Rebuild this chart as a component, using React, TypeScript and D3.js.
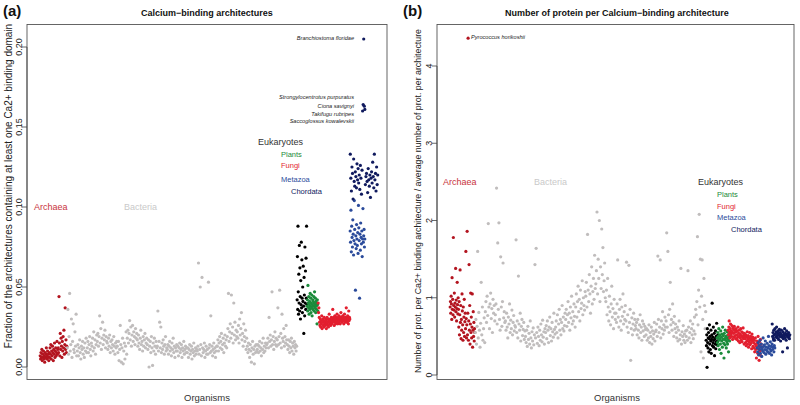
import React from "react";
import * as d3 from "d3";

// ---------- Panel (a): fraction of architectures with >=1 Ca2+ binding domain ----------
const archaeaA = [
  .007,.005,.009,.006,.011,.004,.008,.006,.010,.005,.007,.003,.009,.006,.008,.012,.005,.007,.010,.006,.008,.004,
  .009,.006,.012,.008,.014,.005,.010,.007,.013,.009,.004,.011,.008,.015,.006,.010,.012,.007,.009,.016,.008,.011,
  .012,.009,.044,.015,.007,.021,.011,.018,.013,.006,.016,.010,.019,.012,.023,.008,.014,.037,.011,.017,.009,.013,
];
const bacteriaA = [
  .012,.036,.008,.019,.046,.010,.014,.030,.006,.016,.027,.011,.009,.022,.013,.033,.007,
  .010,.014,.007,.012,.017,.009,.005,.013,.011,.016,.008,.012,.006,.015,.010,.018,.009,
  .012,.016,.009,.014,.019,.011,.007,.015,.013,.018,.010,.022,.012,.017,.008,.014,.020,
  .016,.021,.013,.019,.032,.015,.024,.011,.018,.028,.014,.020,.017,.023,.012,.019,.016,
  .015,.011,.018,.013,.020,.009,.016,.012,.017,.014,.010,.019,.013,.008,.015,.012,.016,
  .013,.009,.016,.004,.011,.026,.014,.003,.012,.018,.002,.010,.015,.005,.013,.022,.008,
  .018,.023,.015,.021,.029,.017,.025,.013,.020,.026,.016,.022,.019,.014,.024,.018,.021,
  .017,.013,.020,.015,.011,.018,.023,.014,.016,.010,.019,.013,.017,.021,.012,.015,.018,
  .014,.011,.017,.000,.013,.016,.009,.019,.012,.001,.015,.010,.018,.013,.008,.016,.012,
  .013,.035,.010,.016,.028,.012,.025,.009,.015,.011,.017,.013,.008,.014,.019,.010,.012,
  .011,.014,.008,.013,.016,.010,.012,.007,.015,.011,.018,.009,.013,.006,.012,.010,.014,
  .010,.013,.007,.012,.015,.009,.011,.014,.006,.012,.010,.016,.008,.011,.013,.009,.012,
  .009,.012,.006,.011,.014,.008,.010,.013,.005,.011,.009,.015,.007,.010,.012,.008,.011,
  .010,.013,.065,.008,.011,.050,.014,.007,.056,.012,.009,.011,.015,.006,.010,.013,.008,
  .011,.008,.053,.012,.014,.009,.032,.010,.013,.007,.011,.015,.009,.012,.006,.010,.013,
  .013,.017,.010,.015,.019,.012,.016,.021,.011,.014,.018,.009,.015,.020,.013,.017,.012,
  .019,.024,.046,.016,.022,.027,.018,.045,.021,.025,.015,.040,.020,.028,.017,.023,.019,
  .022,.018,.026,.015,.030,.020,.024,.034,.017,.021,.013,.027,.019,.016,.023,.011,.018,
  .013,.009,.015,.011,.006,.014,.010,.003,.012,.016,.008,.011,.002,.013,.009,.014,.010,
  .011,.014,.009,.013,.016,.010,.012,.007,.015,.011,.018,.009,.013,.010,.015,.012,.014,
  .015,.018,.012,.031,.016,.020,.013,.017,.047,.014,.019,.011,.016,.022,.014,.018,.013,
  .017,.037,.014,.019,.048,.015,.021,.012,.033,.018,.016,.024,.013,.019,.015,.026,.017,
  .014,.011,.017,.013,.009,.016,.012,.018,.010,.015,.013,.008,.016,.012,.014,.010,.013,
];
const otherEukA = [
  .042,.069,.036,.088,.047,.033,.058,.040,.076,.035,.062,.044,.030,.054,.039,.078,.037,.067,
  .043,.034,.050,.041,.063,.038,.021,.056,.045,.032,.075,.040,.060,.036,.068,.043,.088,.039,
];
const plantsA = [
  .038,.042,.035,.051,.040,.037,.044,.033,.039,.041,.036,.046,.038,.043,.034,.040,.037,.045,.032,.039,
  .042,.036,.041,.038,.044,.035,.040,.047,.037,.039,.043,.034,.041,.038,.036,.040,.027,.042,.039,.035,
];
const fungiA = [
  .040,.034,.037,.031,.028,.026,.030,.025,.029,.027,.032,.024,.028,.030,.026,.029,.025,.031,.027,.028,
  .026,.030,.029,.024,.027,.031,.028,.026,.030,.025,.029,.033,.027,.028,.030,.026,.029,.031,.027,.028,
  .030,.036,.029,.031,.028,.026,.030,.032,.029,.027,.031,.028,.030,.033,.029,.027,.031,.030,.028,.032,
  .029,.031,.027,.030,.034,.029,.031,.028,.030,.032,.029,.031,.027,.030,.033,.029,.031,.028,.030,.037,
  .029,.031,.028,.032,.030,.027,.035,.029,.031,.030,
];
const metazoaA = [
  .085,.078,.098,.072,.088,.081,.075,.092,.083,.070,.079,.104,.086,.077,.048,.082,.074,.089,.080,.076,
  .084,.071,.101,.087,.079,.043,.083,.073,.090,.081,.077,.085,.069,.080,.099,.078,.082,.086,.075,.080,
];
const chordataA = [
  .133,.118,.110,.125,.121,.105,.130,.116,.113,.122,.119,.112,.127,.117,.124,.115,.120,.111,.126,.118,
  .108,.123,.160,.164,.205,.163,.161,.114,.119,.121,.116,.109,.124,.117,.113,.120,.106,.118,.122,.115,
  .128,.119,.112,.133,.117,.121,.110,.125,.114,.120,
];
const ticksA = [0, 0.05, 0.1, 0.15, 0.2];
const namedA = ["Branchiostoma floridae", "Strongylocentrotus purpuratus", "Ciona savignyi", "Takifugu rubripes", "Saccoglossus kowalevskii"];

// ---------- Panel (b): relative number of proteins per Ca2+ binding architecture ----------
const archaeaB = [
  .88,.95,.80,1.02,.92,.72,1.26,.85,.98,.78,1.78,.90,.84,1.06,.75,.93,.88,1.38,.82,.97,.70,.86,1.20,.91,.79,1.00,
  .85,.62,.95,.52,.78,1.36,.68,.90,.47,.72,.58,1.05,.83,.65,.45,.88,.55,.75,.98,.50,.69,.80,.60,1.60,.73,.48,
  .65,1.86,.52,.80,4.36,.45,.70,1.43,.58,.90,.40,.66,1.06,.55,.75,.48,.62,1.05,.36,.58,.82,.50,.68,.44,.60,.55,
];
const bacteriaB = [
  .55,.72,.40,.63,1.60,.48,.81,.58,.36,.67,1.20,.52,.88,.45,.60,.74,.42,
  .82,.95,.68,1.02,.77,1.96,.88,.60,.92,1.06,.73,.86,.55,.98,.80,.90,.70,
  .78,.92,2.42,.66,1.71,.85,1.97,.72,.58,1.53,.88,.63,.95,1.45,.74,.82,.68,
  .70,.58,.80,.62,.48,.75,.66,.92,.55,.71,.60,.84,.52,.68,.77,.57,.64,
  .62,1.75,.55,.70,.48,1.28,.66,.58,.80,.44,.63,.72,.51,.59,.68,.46,.57,
  .50,.42,.58,.37,.63,.46,.54,.40,.70,.48,.35,.56,.44,.61,.39,.52,1.43,
  .48,1.64,.55,.41,.62,.50,.38,.58,.45,.66,.52,.43,.71,.49,.56,.40,.60,
  .55,.64,.47,.70,.58,.42,.62,.75,.51,.60,.44,.68,.56,.49,.80,.59,.53,
  .62,.70,.55,.78,.48,.66,.85,.58,.72,.52,.68,.90,.60,.75,.57,.64,.80,
  .72,.85,.63,.78,.95,.68,.80,.58,.88,.74,1.02,.66,.82,.70,.92,.76,.62,
  .88,1.05,.75,.95,1.15,.82,.98,.70,1.10,.86,.93,1.22,.78,1.00,.90,.84,1.08,
  1.02,1.20,.88,1.82,1.10,.95,1.30,1.05,.80,1.15,1.40,.92,1.08,1.25,.98,1.55,1.12,
  1.18,1.35,2.11,1.05,1.50,1.25,2.00,.95,1.40,1.12,1.89,1.30,1.65,1.08,1.22,1.45,1.00,
  .95,1.10,.78,1.25,.88,.70,1.02,.82,.65,.92,1.15,.75,.86,.60,.98,.80,.72,
  .80,.68,.92,1.49,.75,.62,.85,.98,.70,.58,.88,.76,1.05,.66,.82,.72,.90,
  .70,1.46,.62,.78,.55,1.42,.68,.85,.19,.60,.74,.52,.66,.80,.58,.72,.64,
  .60,.68,.52,.72,.58,.48,.65,.78,.55,.62,.45,.70,.57,.66,.50,.63,.59,
  .52,.60,.45,.58,.48,.65,.42,.55,.50,.62,.40,.57,.47,.53,.68,.44,.56,
  .58,.66,.50,1.54,.72,.55,.62,1.49,.48,.70,.60,.82,.53,.65,.58,.75,.62,
  .70,1.84,.62,1.60,.78,.55,.85,1.20,.65,.72,.58,.92,.68,.50,.76,.60,.66,
  .55,.48,.62,.44,.58,.70,.46,.52,1.38,.40,.56,.50,.64,.45,.53,.42,.57,
  .50,.58,.45,1.35,.62,.48,.55,.70,.42,.60,.52,.66,.47,.57,.75,.53,.85,
  .78,.95,1.79,.65,1.10,2.08,.88,1.50,.30,1.02,1.49,.72,.22,1.25,.90,.60,.82,
];
const otherEukB = [
  .45,.38,.52,.10,.60,.42,.35,.48,.55,.30,.47,.65,.40,.50,.33,.44,.58,.28,.46,.52,
  .93,.38,.49,.42,.62,.36,.45,.54,.25,.47,.40,.57,.34,.50,.43,.67,.39,.48,.44,.52,
];
const plantsB = [
  .48,.42,.55,.38,.50,.60,.45,.33,.52,.47,.40,.57,.28,.49,.44,.53,.36,.62,.46,.51,
  .41,.22,.54,.47,.39,.58,.45,.50,.35,.48,.43,.56,.40,.52,.46,.30,.49,.55,.44,.50,
];
const fungiB = [
  .58,.52,.62,.70,.55,.48,.60,.66,.53,.57,.50,.64,.56,.46,.61,.54,.59,.49,.63,.55,.51,.58,.47,.60,.56,
  .52,.46,.57,.49,.62,.44,.54,.50,.58,.42,.53,.48,.60,.45,.51,.56,.43,.55,.49,.61,.47,.52,.40,.54,.50,
  .47,.42,.52,.38,.49,.44,.56,.40,.46,.51,.36,.48,.43,.55,.39,.45,.50,.41,.47,.34,.53,.44,.49,.37,.46,
  .42,.35,.45,.30,.40,.48,.33,.38,.22,.44,.36,.41,.28,.50,.34,.39,.19,.43,.31,.37,.46,.25,.40,.33,.36,
];
const metazoaB = [
  .35,.30,.42,.26,.38,.33,.45,.28,.36,.40,.24,.34,.31,.48,.37,.29,.39,.33,.44,.27,
  .36,.32,.41,.30,.35,.50,.38,.28,.34,.43,.31,.37,.26,.40,.33,.36,.45,.30,.38,.35,
];
const chordataB = [
  .66,.50,.55,.47,.58,.52,.45,.60,.53,.49,.56,.62,.51,.48,.54,.57,.46,.52,.59,.50,.55,.44,.53,
  .58,.49,.51,.30,.56,.47,.53,.50,.60,.48,.54,.52,.45,.57,.51,.35,.49,.53,.55,.50,.47,.52,
];
const ticksB = [0, 1, 2, 3, 4];

const COL = {
  archaea: "#b3141f",
  bacteria: "#c0bdbd",
  other: "#000000",
  plants: "#1b8b3b",
  fungi: "#e21f2f",
  metazoa: "#2b4b9b",
  chordata: "#101a5e",
};

type Group = { vals: number[]; span: [number, number]; color: string };

const groupsA: Group[] = [
  { vals: archaeaA, span: [13, 40], color: COL.archaea },
  { vals: bacteriaA, span: [40, 270], color: COL.bacteria },
  { vals: otherEukA, span: [270, 280], color: COL.other },
  { vals: plantsA, span: [280, 291], color: COL.plants },
  { vals: fungiA, span: [291, 323], color: COL.fungi },
  { vals: metazoaA, span: [323, 338], color: COL.metazoa },
  { vals: chordataA, span: [323, 351], color: COL.chordata },
];
const groupsB: Group[] = [
  { vals: archaeaB, span: [13, 38], color: COL.archaea },
  { vals: bacteriaB, span: [38, 269], color: COL.bacteria },
  { vals: otherEukB, span: [269, 281], color: COL.other },
  { vals: plantsB, span: [280, 293], color: COL.plants },
  { vals: fungiB, span: [291, 325], color: COL.fungi },
  { vals: metazoaB, span: [320, 338], color: COL.metazoa },
  { vals: chordataB, span: [335, 353], color: COL.chordata },
];

const FONT = "'Liberation Sans', Arial, Helvetica, sans-serif";

function Points({ groups, x, y }: { groups: Group[]; x: d3.ScaleLinear<number, number>; y: d3.ScaleLinear<number, number> }) {
  return (
    <g>
      {groups.map((g, gi) =>
        g.vals.map((v, i) => {
          const xv = g.span[0] + ((i + 0.5) / g.vals.length) * (g.span[1] - g.span[0]);
          return <circle key={gi + "-" + i} cx={x(xv)} cy={y(v)} r={1.6} fill={g.color} />;
        })
      )}
    </g>
  );
}

function YAxis({ y, ticks, xAxis, fmt, labelX }: { y: d3.ScaleLinear<number, number>; ticks: number[]; xAxis: number; fmt: (n: number) => string; labelX: number }) {
  return (
    <g>
      <line x1={xAxis} x2={xAxis} y1={y(ticks[0])} y2={y(ticks[ticks.length - 1])} stroke="#444" strokeWidth={0.8} />
      {ticks.map((t) => (
        <g key={t}>
          <line x1={xAxis - 5} x2={xAxis} y1={y(t)} y2={y(t)} stroke="#444" strokeWidth={0.8} />
          <text transform={`translate(${labelX},${y(t)}) rotate(-90)`} textAnchor="middle" fontSize={9} fill="#222" fontFamily={FONT}>
            {fmt(t)}
          </text>
        </g>
      ))}
    </g>
  );
}

export default function App() {
  const xA = d3.scaleLinear().domain([0, 360]).range([27, 387]);
  const yA = d3.scaleLinear().domain([0, 0.2]).range([367, 47]);
  const xB = d3.scaleLinear().domain([0, 357]).range([437, 794]);
  const yB = d3.scaleLinear().domain([0, 4]).range([375, 66]);
  const fA = d3.format(".2f");
  const fB = d3.format("d");
  const sub = 7.5;

  return (
    <svg width={800} height={405} style={{ position: "absolute", left: 0, top: 0, background: "#fff" }} fontFamily={FONT}>
      <rect width={800} height={405} fill="#fff" />
      {/* ---------- Panel a ---------- */}
      <text x={3} y={16} fontSize={15} fontWeight="bold" fill="#111">(a)</text>
      <text x={207} y={16} fontSize={9} fontWeight="bold" textAnchor="middle" fill="#111">Calcium−binding architectures</text>
      <rect x={27} y={24.5} width={360} height={355} fill="none" stroke="#555" strokeWidth={0.9} />
      <YAxis y={yA} ticks={ticksA} xAxis={27} fmt={fA} labelX={21.5} />
      <text transform="translate(11.5,186) rotate(-90)" textAnchor="middle" fontSize={10} fill="#222">
        Fraction of the architectures containing at least one Ca2+ binding domain
      </text>
      <text x={207} y={401} fontSize={9.5} textAnchor="middle" fill="#333">Organisms</text>
      <Points groups={groupsA} x={xA} y={yA} />
      <text x={34} y={210} fontSize={9} fill="#c8323c">Archaea</text>
      <text x={124} y={210} fontSize={9} fill="#c9c9c9">Bacteria</text>
      <text x={258} y={145} fontSize={9} fill="#333">Eukaryotes</text>
      <text x={281} y={157} fontSize={sub} fill={COL.plants}>Plants</text>
      <text x={281} y={168} fontSize={sub} fill={COL.fungi}>Fungi</text>
      <text x={281} y={182} fontSize={sub} fill={COL.metazoa}>Metazoa</text>
      <text x={291} y={194} fontSize={sub} fill={COL.chordata}>Chordata</text>
      <g fontSize={5.6} fontStyle="italic" fill="#222" textAnchor="end">
        <text x={354} y={40}>{namedA[0]}</text>
        <text x={354} y={99}>{namedA[1]}</text>
        <text x={354} y={108}>{namedA[2]}</text>
        <text x={354} y={115.5}>{namedA[3]}</text>
        <text x={354} y={123}>{namedA[4]}</text>
      </g>

      {/* ---------- Panel b ---------- */}
      <text x={403} y={16} fontSize={15} fontWeight="bold" fill="#111">(b)</text>
      <text x={617} y={16} fontSize={9} fontWeight="bold" textAnchor="middle" fill="#111">Number of protein per Calcium−binding architecture</text>
      <rect x={437} y={24.5} width={357} height={355} fill="none" stroke="#555" strokeWidth={0.9} />
      <YAxis y={yB} ticks={ticksB} xAxis={437} fmt={fB} labelX={432} />
      <text transform="translate(421,201) rotate(-90)" textAnchor="middle" fontSize={8.8} fill="#222">
        Number of prot. per Ca2+ binding architecture / average number of prot. per architecture
      </text>
      <text x={617} y={401} fontSize={9.5} textAnchor="middle" fill="#333">Organisms</text>
      <Points groups={groupsB} x={xB} y={yB} />
      <text x={443} y={185} fontSize={9} fill="#c8323c">Archaea</text>
      <text x={534} y={185} fontSize={9} fill="#c9c9c9">Bacteria</text>
      <text x={698} y={185} fontSize={9} fill="#333">Eukaryotes</text>
      <text x={717} y={197} fontSize={sub} fill={COL.plants}>Plants</text>
      <text x={717} y={209} fontSize={sub} fill={COL.fungi}>Fungi</text>
      <text x={717} y={220} fontSize={sub} fill={COL.metazoa}>Metazoa</text>
      <text x={731} y={232} fontSize={sub} fill={COL.chordata}>Chordata</text>
      <text x={471} y={39} fontSize={5.6} fontStyle="italic" fill="#222">Pyrococcus horikoshii</text>
    </svg>
  );
}
